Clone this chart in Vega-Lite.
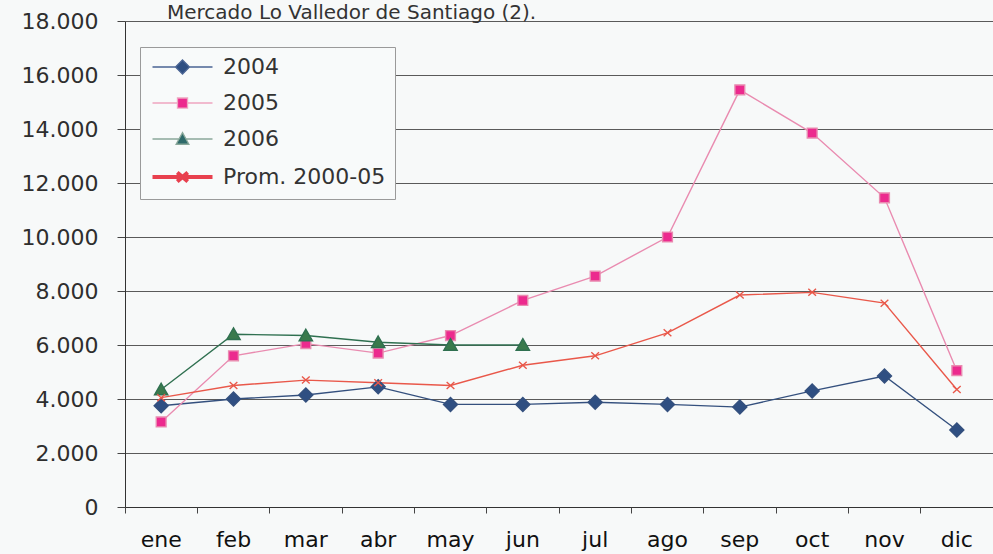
{
  "$schema": "https://vega.github.io/schema/vega-lite/v6.json",
  "width": 868,
  "height": 486,
  "autosize": {"type": "none"},
  "padding": {"left": 125, "top": 21, "right": 0, "bottom": 47},
  "background": "#f7f9f9",
  "title": {
    "text": "Mercado Lo Valledor de Santiago (2).",
    "anchor": "start",
    "frame": "group",
    "dx": 42,
    "dy": 22,
    "offset": -7,
    "baseline": "alphabetic",
    "fontSize": 20,
    "font": "DejaVu Sans",
    "fontWeight": "normal",
    "color": "#333333"
  },
  "config": {
    "view": {"stroke": null},
    "font": "DejaVu Sans"
  },
  "data": {
    "values": [
      {"mes": "ene", "serie": "2004", "valor": 3750},
      {"mes": "feb", "serie": "2004", "valor": 4000},
      {"mes": "mar", "serie": "2004", "valor": 4150},
      {"mes": "abr", "serie": "2004", "valor": 4450},
      {"mes": "may", "serie": "2004", "valor": 3800},
      {"mes": "jun", "serie": "2004", "valor": 3800},
      {"mes": "jul", "serie": "2004", "valor": 3880},
      {"mes": "ago", "serie": "2004", "valor": 3800},
      {"mes": "sep", "serie": "2004", "valor": 3700},
      {"mes": "oct", "serie": "2004", "valor": 4300},
      {"mes": "nov", "serie": "2004", "valor": 4850},
      {"mes": "dic", "serie": "2004", "valor": 2850},
      {"mes": "ene", "serie": "2005", "valor": 3150},
      {"mes": "feb", "serie": "2005", "valor": 5600},
      {"mes": "mar", "serie": "2005", "valor": 6050},
      {"mes": "abr", "serie": "2005", "valor": 5700},
      {"mes": "may", "serie": "2005", "valor": 6350},
      {"mes": "jun", "serie": "2005", "valor": 7650},
      {"mes": "jul", "serie": "2005", "valor": 8550},
      {"mes": "ago", "serie": "2005", "valor": 10000},
      {"mes": "sep", "serie": "2005", "valor": 15450},
      {"mes": "oct", "serie": "2005", "valor": 13850},
      {"mes": "nov", "serie": "2005", "valor": 11450},
      {"mes": "dic", "serie": "2005", "valor": 5050},
      {"mes": "ene", "serie": "2006", "valor": 4350},
      {"mes": "feb", "serie": "2006", "valor": 6400},
      {"mes": "mar", "serie": "2006", "valor": 6350},
      {"mes": "abr", "serie": "2006", "valor": 6100},
      {"mes": "may", "serie": "2006", "valor": 6000},
      {"mes": "jun", "serie": "2006", "valor": 6000},
      {"mes": "ene", "serie": "Prom. 2000-05", "valor": 4050},
      {"mes": "feb", "serie": "Prom. 2000-05", "valor": 4500},
      {"mes": "mar", "serie": "Prom. 2000-05", "valor": 4700},
      {"mes": "abr", "serie": "Prom. 2000-05", "valor": 4600},
      {"mes": "may", "serie": "Prom. 2000-05", "valor": 4500},
      {"mes": "jun", "serie": "Prom. 2000-05", "valor": 5250},
      {"mes": "jul", "serie": "Prom. 2000-05", "valor": 5600},
      {"mes": "ago", "serie": "Prom. 2000-05", "valor": 6450},
      {"mes": "sep", "serie": "Prom. 2000-05", "valor": 7850},
      {"mes": "oct", "serie": "Prom. 2000-05", "valor": 7950},
      {"mes": "nov", "serie": "Prom. 2000-05", "valor": 7550},
      {"mes": "dic", "serie": "Prom. 2000-05", "valor": 4350}
    ]
  },
  "encoding": {
    "y": {
      "field": "valor",
      "type": "quantitative",
      "scale": {"domain": [0, 18000], "nice": false},
      "axis": {
        "title": null,
        "values": [0, 2000, 4000, 6000, 8000, 10000, 12000, 14000, 16000, 18000],
        "labelExpr": "replace(format(datum.value, ','), ',', '.')",
        "labelFont": "DejaVu Sans",
        "labelFontSize": 22,
        "labelColor": "#2e2e2e",
        "labelPadding": 19,
        "tickSize": 8,
        "tickColor": "#444444",
        "domainColor": "#333333",
        "gridColor": "#5a5a5a",
        "gridWidth": 1,
        "grid": true
      }
    }
  },
  "layer": [
    {
      "mark": {"type": "line", "strokeWidth": 1.4},
      "encoding": {
        "x": {
          "field": "mes",
          "type": "nominal",
          "sort": ["ene", "feb", "mar", "abr", "may", "jun", "jul", "ago", "sep", "oct", "nov", "dic"],
          "scale": {"type": "band", "paddingInner": 0, "paddingOuter": 0},
          "axis": {
            "orient": "bottom",
            "title": null,
            "labelAngle": 0,
            "ticks": false,
            "grid": false,
            "labelFont": "DejaVu Sans",
            "labelFontSize": 22,
            "labelColor": "#111111",
            "labelPadding": 22,
            "domainColor": "#333333"
          }
        },
        "stroke": {
          "field": "serie",
          "type": "nominal",
          "scale": {"domain": ["Prom. 2000-05", "2004", "2005", "2006"], "range": ["#e9584a", "#34507e", "#e98bb0", "#2f7050"]},
          "legend": null
        }
      }
    },
    {
      "mark": {"type": "point", "filled": true, "size": 196, "strokeWidth": 1.4},
      "encoding": {
        "x": {
          "field": "mes",
          "type": "nominal",
          "sort": ["ene", "feb", "mar", "abr", "may", "jun", "jul", "ago", "sep", "oct", "nov", "dic"],
          "scale": {"type": "band", "paddingInner": 0, "paddingOuter": 0},
          "axis": {
            "orient": "bottom",
            "title": null,
            "labels": false,
            "domain": false,
            "grid": false,
            "ticks": true,
            "bandPosition": 0,
            "tickSize": 6,
            "tickColor": "#444444"
          }
        },
        "fill": {
          "field": "serie",
          "type": "nominal",
          "scale": {"domain": ["Prom. 2000-05", "2004", "2005", "2006"], "range": ["#e9584a", "#2f4f82", "#ec2a8e", "#3a7a4c"]},
          "legend": null
        },
        "shape": {
          "field": "serie",
          "type": "nominal",
          "scale": {
            "domain": ["Prom. 2000-05", "2004", "2005", "2006"],
            "range": ["M-0.55,-0.5L0.55,0.5M-0.55,0.5L0.55,-0.5", "M0,-1L1,0L0,1L-1,0Z", "M-0.7,-0.7H0.7V0.7H-0.7Z", "M0,-0.9L0.95,0.75L-0.95,0.75Z"]
          },
          "legend": null
        },
        "stroke": {
          "field": "serie",
          "type": "nominal",
          "scale": {"domain": ["Prom. 2000-05", "2004", "2005", "2006"], "range": ["#e9584a", "#34507e", "#e98bb0", "#2f7050"]},
          "legend": null
        },
        "opacity": {
          "field": "serie",
          "type": "nominal",
          "scale": {"domain": ["2004", "2005", "2006", "Prom. 2000-05"], "range": [1, 1, 1, 1]},
          "legend": {
            "title": null,
            "orient": "none",
            "legendX": 15,
            "legendY": 26,
            "padding": 9,
            "strokeColor": "#9a9a9a",
            "fillColor": "#f8fafa",
            "labelFont": "DejaVu Sans",
            "labelFontSize": 22,
            "labelColor": "#333333",
            "labelLimit": 300,
            "symbolSize": 225,
            "labelOffset": 52,
            "rowPadding": 14,
            "encoding": {
              "symbols": {
                "shape": {"value": {"expr": "datum.value === '2004' ? 'M-1,0H2.07M3.93,0H7M3,-0.93L3.93,0L3,0.93L2.07,0Z' : datum.value === '2005' ? 'M-1,0H2.33M3.67,0H7M2.33,-0.67H3.67V0.67H2.33Z' : datum.value === '2006' ? 'M-1,0H2.53M3.47,0H7M3,-0.85L3.85,0.7L2.15,0.7Z' : 'M-1,0H7M2.3,-0.6L3.7,0.6M2.3,0.6L3.7,-0.6'"}},
                "fill": {"value": {"expr": "datum.value === '2004' ? '#2f4f82' : datum.value === '2005' ? '#ec2a8e' : datum.value === '2006' ? '#2f6a6a' : '#e9584a'"}},
                "stroke": {"value": {"expr": "datum.value === '2004' ? '#4a6494' : datum.value === '2005' ? '#eea5c0' : datum.value === '2006' ? '#8aa89a' : '#e8404e'"}},
                "strokeWidth": {"value": {"expr": "datum.value === 'Prom. 2000-05' ? 4 : 1.3"}},
                "fillOpacity": {"value": 1},
                "strokeOpacity": {"value": 1},
                "size": {"value": 225}
              }
            }
          }
        }
      }
    }
  ],
  "resolve": {"axis": {"x": "independent"}}
}
